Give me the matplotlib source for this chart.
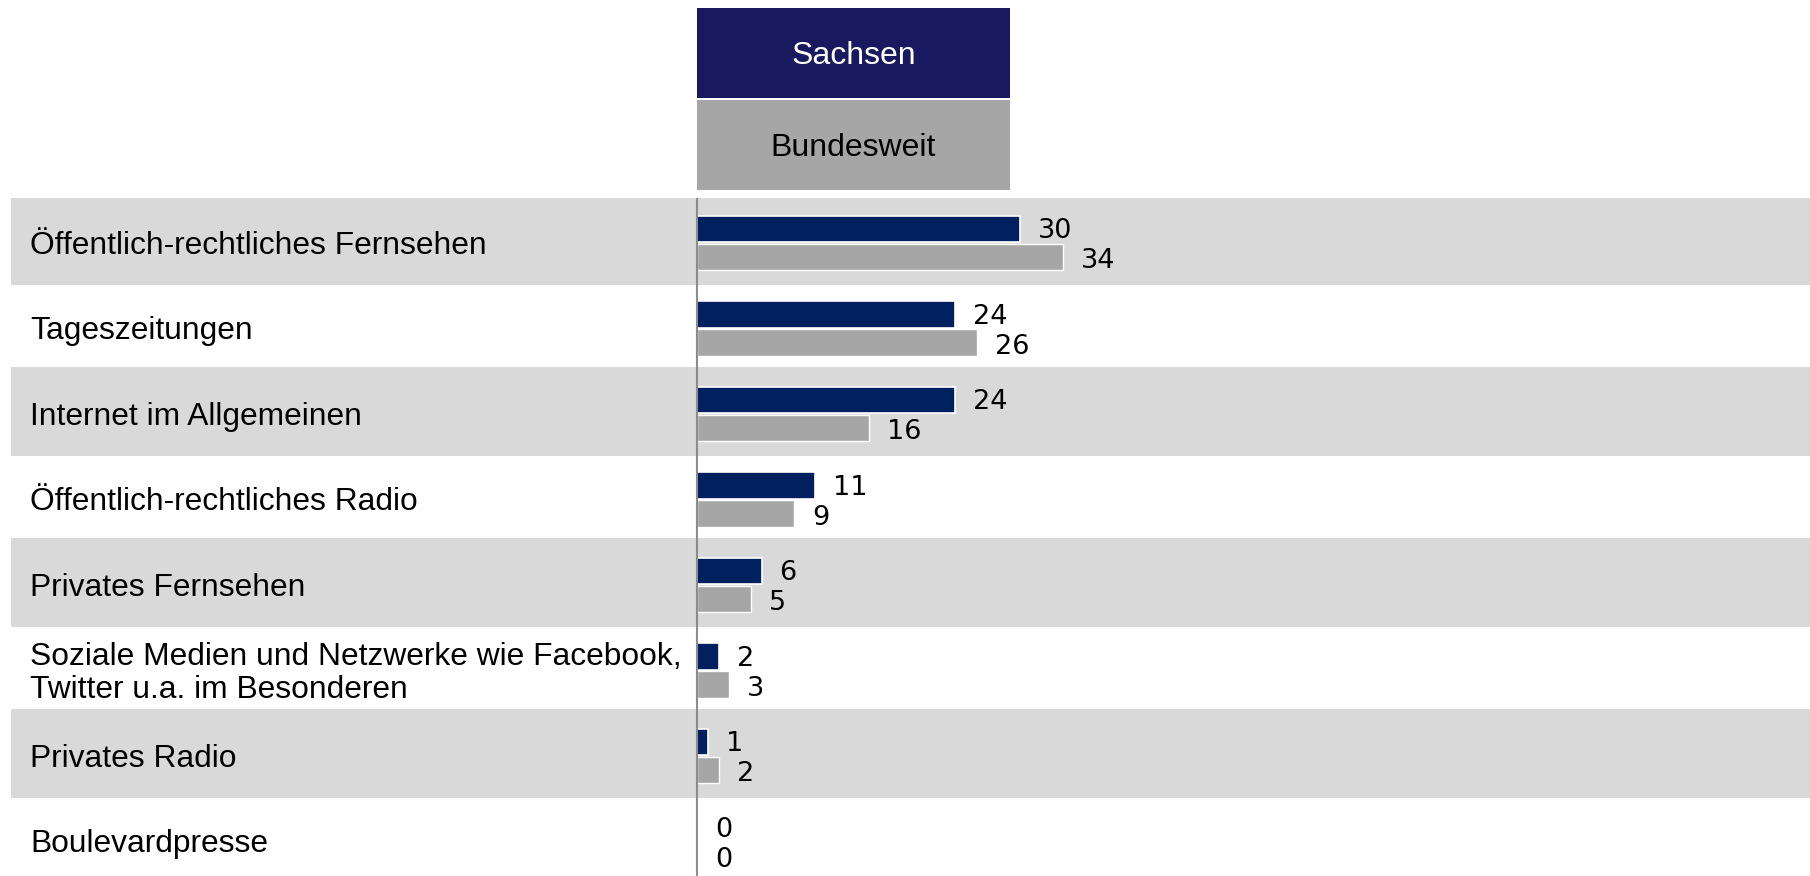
import numpy as np
import matplotlib.pyplot as plt
from matplotlib.patches import Rectangle

# data
categories = [
    'Öffentlich-rechtliches Fernsehen',
    'Tageszeitungen',
    'Internet im Allgemeinen',
    'Öffentlich-rechtliches Radio',
    'Privates Fernsehen',
    'Soziale Medien und Netzwerke wie Facebook,\nTwitter u.a. im Besonderen',
    'Privates Radio',
    'Boulevardpresse',
]
sachsen = [30, 24, 24, 11, 6, 2, 1, 0]
bundesweit = [34, 26, 16, 9, 5, 3, 2, 0]
series_names = ['Sachsen', 'Bundesweit']

navy = '#002060'
navy_head = '#19195f'
grey = '#a6a6a6'
band = '#d9d9d9'

W, H = 1810, 876
fig = plt.figure(figsize=(W / 100, H / 100), dpi=100)
ax = fig.add_axes([0, 0, 1, 1])

# pixel geometry of the layout
x0_px = 697          # where value 0 sits
px_per_unit = 10.75
row_top_px = 198
row_px = 85.5

ax.set_xlim(-x0_px / px_per_unit, (W - x0_px) / px_per_unit)
ax.set_ylim(-0.5 + (H - row_top_px) / row_px, -0.5 - row_top_px / row_px)
ax.axis('off')

n = len(categories)
y = np.arange(n)

# alternating row bands (grey rows a bit taller than white ones)
for i in range(n):
    if i % 2 == 0:
        lo = i - 0.5 if i == 0 else i - 0.52
        ax.axhspan(lo, i + 0.52, xmin=11 / W, xmax=1, color=band, lw=0, zorder=0)

h = 0.31
ax.barh(y - 0.14, sachsen, height=h, color=navy, edgecolor='white', linewidth=1.2, zorder=2)
ax.barh(y + 0.19, bundesweit, height=h, color=grey, edgecolor='white', linewidth=1.0, zorder=2)

# axis line
ax.plot([0, 0], [-0.5, n], color='#8c8c8c', lw=1.5, zorder=3, solid_capstyle='butt')

# value labels
for yi, v in zip(y, sachsen):
    ax.annotate(str(v), (v, yi - 0.11), xytext=(13, 0), textcoords='offset points',
                va='center', ha='left', fontsize=19.5, family='DejaVu Sans')
for yi, v in zip(y, bundesweit):
    ax.annotate(str(v), (v, yi + 0.24), xytext=(13, 0), textcoords='offset points',
                va='center', ha='left', fontsize=19.5, family='DejaVu Sans')

# category labels
for yi, c in zip(y, categories):
    ax.text(30 / W, yi + 0.06, c, transform=ax.get_yaxis_transform(), ha='left', va='center',
            fontsize=22.9, family='Liberation Sans', linespacing=1.1)

# header legend boxes
box_w = 313 / px_per_unit
heads = [(series_names[0], navy_head, 'white', 8, 98), (series_names[1], grey, 'black', 100, 190)]
for name, fc, tc, top, bot in heads:
    y_top = -0.5 + (top - row_top_px) / row_px
    y_bot = -0.5 + (bot - row_top_px) / row_px
    ax.add_patch(Rectangle((0, y_top), box_w, y_bot - y_top, facecolor=fc, lw=0, zorder=2))
    ax.text(box_w / 2, (y_top + y_bot) / 2 + 0.03, name, ha='center', va='center', color=tc,
            fontsize=23, family='Liberation Sans')

fig.savefig('out.png', dpi=100)
